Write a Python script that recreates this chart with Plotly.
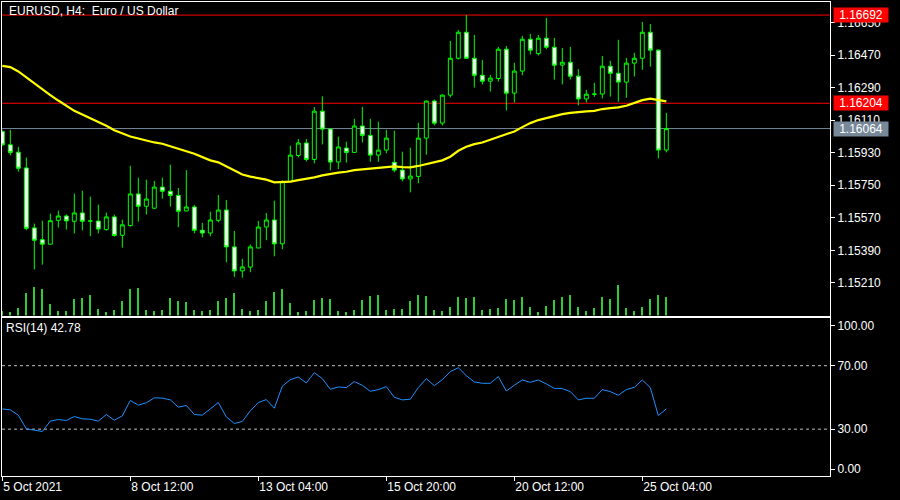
import plotly.graph_objects as go

# ---------------- data (EURUSD H4) ----------------
opens = [1.16048, 1.15974, 1.15933, 1.15846, 1.15514, 1.15449, 1.15424, 1.15556, 1.15580, 1.15551,
         1.15597, 1.15553, 1.15552, 1.15505, 1.15575, 1.15473, 1.15527, 1.15702, 1.15634, 1.15623,
         1.15740, 1.15717, 1.15694, 1.15608, 1.15630, 1.15501, 1.15486, 1.15556, 1.15613, 1.15409,
         1.15276, 1.15297, 1.15403, 1.15519, 1.15558, 1.15426, 1.15770, 1.15915, 1.15984, 1.15893,
         1.16160, 1.16061, 1.15879, 1.15956, 1.15932, 1.16078, 1.16026, 1.15917, 1.15945, 1.15877,
         1.15834, 1.15785, 1.15799, 1.16011, 1.16216, 1.16094, 1.16249, 1.16453, 1.16597, 1.16453,
         1.16359, 1.16326, 1.16341, 1.16503, 1.16260, 1.16382, 1.16558, 1.16479, 1.16564, 1.16514,
         1.16415, 1.16431, 1.16354, 1.16228, 1.16254, 1.16255, 1.16409, 1.16370, 1.16321, 1.16426,
         1.16453, 1.16597, 1.16498, 1.15945]
highs = [1.16054, 1.16057, 1.15963, 1.15903, 1.15538, 1.15554, 1.15593, 1.15610, 1.15589, 1.15704,
         1.15720, 1.15687, 1.15643, 1.15599, 1.15588, 1.15560, 1.15858, 1.15792, 1.15781, 1.15774,
         1.15792, 1.15864, 1.15735, 1.15834, 1.15641, 1.15542, 1.15604, 1.15696, 1.15669, 1.15497,
         1.15343, 1.15422, 1.15553, 1.15597, 1.15665, 1.15777, 1.15969, 1.16006, 1.16006, 1.16183,
         1.16243, 1.16065, 1.16019, 1.15991, 1.16118, 1.16184, 1.16118, 1.16102, 1.16057, 1.16052,
         1.15936, 1.15958, 1.16096, 1.16219, 1.16225, 1.16253, 1.16549, 1.16610, 1.16692, 1.16582,
         1.16444, 1.16361, 1.16516, 1.16521, 1.16428, 1.16577, 1.16588, 1.16582, 1.16676, 1.16566,
         1.16510, 1.16516, 1.16393, 1.16278, 1.16317, 1.16466, 1.16439, 1.16555, 1.16455, 1.16483,
         1.16654, 1.16643, 1.16501, 1.16151]
lows = [1.15969, 1.15915, 1.15825, 1.15501, 1.15284, 1.15311, 1.15422, 1.15516, 1.15505, 1.15483,
        1.15501, 1.15468, 1.15483, 1.15499, 1.15466, 1.15405, 1.15521, 1.15549, 1.15588, 1.15621,
        1.15676, 1.15632, 1.15518, 1.15606, 1.15484, 1.15462, 1.15468, 1.15545, 1.15324, 1.15243,
        1.15238, 1.15269, 1.15402, 1.15446, 1.15357, 1.15396, 1.15768, 1.15904, 1.15882, 1.15871,
        1.15976, 1.15833, 1.15840, 1.15875, 1.15930, 1.15987, 1.15880, 1.15880, 1.15927, 1.15822,
        1.15772, 1.15711, 1.15761, 1.15919, 1.16081, 1.16081, 1.16236, 1.16446, 1.16450, 1.16291,
        1.16308, 1.16269, 1.16324, 1.16164, 1.16208, 1.16359, 1.16474, 1.16468, 1.16503, 1.16335,
        1.16308, 1.16335, 1.16192, 1.16208, 1.16240, 1.16231, 1.16241, 1.16212, 1.16234, 1.16352,
        1.16389, 1.16407, 1.15899, 1.15932]
closes = [1.15974, 1.15932, 1.15844, 1.15512, 1.15446, 1.15424, 1.15554, 1.15580, 1.15553, 1.15597,
          1.15551, 1.15552, 1.15508, 1.15575, 1.15472, 1.15531, 1.15702, 1.15634, 1.15674, 1.15740,
          1.15717, 1.15694, 1.15606, 1.15630, 1.15501, 1.15486, 1.15558, 1.15613, 1.15409, 1.15276,
          1.15298, 1.15409, 1.15519, 1.15558, 1.15426, 1.15770, 1.15917, 1.15984, 1.15893, 1.16160,
          1.16061, 1.15879, 1.15962, 1.15932, 1.16078, 1.16026, 1.15917, 1.15945, 1.16011, 1.15834,
          1.15785, 1.15801, 1.16011, 1.16216, 1.16094, 1.16249, 1.16453, 1.16597, 1.16453, 1.16359,
          1.16326, 1.16343, 1.16503, 1.16260, 1.16382, 1.16558, 1.16498, 1.16564, 1.16514, 1.16415,
          1.16431, 1.16354, 1.16228, 1.16254, 1.16255, 1.16409, 1.16370, 1.16321, 1.16426, 1.16453,
          1.16597, 1.16498, 1.15945, 1.16064]
moving_avg = [1.16411, 1.16404, 1.16380, 1.16347, 1.16312, 1.16278, 1.16249, 1.16219, 1.16192, 1.16162,
              1.16142, 1.16122, 1.16098, 1.16079, 1.16055, 1.16037, 1.16020, 1.16009, 1.15997, 1.15987,
              1.15980, 1.15965, 1.15949, 1.15938, 1.15925, 1.15906, 1.15888, 1.15877, 1.15855, 1.15831,
              1.15810, 1.15798, 1.15788, 1.15781, 1.15766, 1.15766, 1.15770, 1.15779, 1.15785, 1.15794,
              1.15805, 1.15814, 1.15820, 1.15825, 1.15834, 1.15838, 1.15842, 1.15845, 1.15851, 1.15855,
              1.15851, 1.15849, 1.15857, 1.15866, 1.15877, 1.15888, 1.15908, 1.15941, 1.15963, 1.15978,
              1.15987, 1.16002, 1.16020, 1.16035, 1.16048, 1.16072, 1.16094, 1.16111, 1.16122, 1.16135,
              1.16144, 1.16151, 1.16157, 1.16159, 1.16162, 1.16172, 1.16177, 1.16181, 1.16190, 1.16205,
              1.16221, 1.16229, 1.16223, 1.16214]
tick_volume = [1500, 1200, 2400, 6800, 8700, 8100, 3600, 1500, 1500, 5100,
               5400, 6300, 2100, 1200, 1800, 4500, 8100, 8400, 1800, 1500,
               1800, 5400, 4500, 4200, 1800, 1500, 1800, 4500, 5400, 6900,
               2100, 1500, 1800, 4500, 7200, 8100, 3900, 1200, 1500, 4800,
               5400, 5100, 1500, 1200, 1800, 4800, 6000, 6300, 1800, 2100,
               2100, 4500, 6300, 6000, 1800, 1500, 2700, 5700, 5400, 5700,
               1800, 2100, 2400, 5100, 4800, 5700, 2700, 1200, 3000, 4800,
               5700, 6300, 2700, 1500, 2400, 5700, 5100, 9300, 2400, 1500,
               2700, 5100, 6300, 5700]
rsi14 = [42.77, 42.15, 38.80, 30.21, 29.37, 28.53, 35.03, 36.07, 35.45, 37.96,
         36.49, 36.28, 35.03, 39.22, 35.65, 38.38, 48.06, 45.13, 46.60, 49.74,
         49.53, 48.48, 43.87, 44.92, 39.27, 38.80, 42.77, 46.75, 37.75, 33.56,
         34.82, 41.52, 46.75, 48.64, 43.19, 57.07, 61.20, 62.88, 59.11, 65.60,
         61.83, 55.13, 56.60, 56.18, 59.95, 57.64, 53.87, 54.92, 56.81, 50.11,
         48.43, 48.85, 56.18, 61.83, 57.43, 61.20, 66.23, 68.74, 63.72, 59.74,
         58.90, 58.90, 63.09, 54.08, 57.64, 60.99, 59.53, 60.99, 58.48, 55.76,
         55.55, 53.66, 48.43, 49.48, 49.48, 54.92, 53.66, 51.36, 54.92, 56.39,
         60.99, 56.18, 38.59, 42.78]

bar_index = list(range(len(opens)))

time_tick_bars = [0, 16, 32, 48, 64, 80]
time_tick_labels = ["5 Oct 2021", "8 Oct 12:00", "13 Oct 04:00", "15 Oct 20:00",
                    "20 Oct 12:00", "25 Oct 04:00"]
price_ticks = [1.16650, 1.16470, 1.16290, 1.16110, 1.15930, 1.15750, 1.15570, 1.15390, 1.15210]
price_tick_labels = ["%.5f" % p for p in price_ticks]
rsi_tick_vals = [95.3, 70, 30, 4.7]
rsi_tick_labels = ["100.00", "70.00", "30.00", "0.00"]
rsi_levels = [70, 30]

high_line = 1.16692
level_line = 1.16204
bid_line = 1.16064

# ---------------- figure ----------------
FONT = "Liberation Sans"
WHITE = "#FFFFFF"
GREEN = "#00FF00"

fig = go.Figure()

fig.add_trace(go.Bar(
    x=bar_index, y=tick_volume, width=0.13,
    marker=dict(color="#32CD32", line=dict(width=0)),
    xaxis="x", yaxis="y3", hoverinfo="skip", showlegend=False))

fig.add_trace(go.Candlestick(
    x=bar_index, open=opens, high=highs, low=lows, close=closes,
    increasing=dict(line=dict(color=GREEN, width=1), fillcolor="#000000"),
    decreasing=dict(line=dict(color=GREEN, width=1), fillcolor="#FFFFFF"),
    whiskerwidth=0, xaxis="x", yaxis="y", showlegend=False))

fig.add_trace(go.Scatter(
    x=bar_index, y=moving_avg, mode="lines",
    line=dict(color="#FFFF00", width=2.2), xaxis="x", yaxis="y",
    showlegend=False))

fig.add_trace(go.Scatter(
    x=bar_index, y=rsi14, mode="lines",
    line=dict(color="#1E90FF", width=1), xaxis="x2", yaxis="y2",
    showlegend=False))

axis_common = dict(showline=True, mirror=True, linecolor=WHITE, linewidth=1,
                   showgrid=False, zeroline=False,
                   tickfont=dict(family=FONT, size=12, color=WHITE),
                   tickcolor=WHITE)

fig.update_layout(
    width=900, height=500,
    margin=dict(l=2, r=70, t=2, b=24),
    paper_bgcolor="#000000", plot_bgcolor="#000000",
    font=dict(family=FONT, size=12, color=WHITE),
    showlegend=False, bargap=0,
    xaxis=dict(domain=[0, 1], range=[-0.0375, 103.46], anchor="y",
               showticklabels=False, ticks="", rangeslider=dict(visible=False),
               **axis_common),
    yaxis=dict(domain=[0.3386, 1], range=[1.150293, 1.167644], side="right",
               tickvals=price_ticks, ticktext=price_tick_labels,
               ticks="outside", ticklen=4, anchor="x", **axis_common),
    yaxis3=dict(domain=[0.3386, 1], range=[0, 94200], overlaying="y",
                visible=False, anchor="x"),
    xaxis2=dict(domain=[0, 1], range=[-0.0375, 103.46], anchor="y2", matches="x",
                tickvals=time_tick_bars, ticktext=time_tick_labels,
                ticks="outside", ticklen=4, ticklabelposition="outside right",
                **axis_common),
    yaxis2=dict(domain=[0, 0.3323], range=[0.47, 99.74], side="right",
                tickvals=rsi_tick_vals, ticktext=rsi_tick_labels,
                ticks="outside", ticklen=4, anchor="x2", **axis_common),
)

# horizontal price lines
for lvl, col in [(high_line, "#FF0000"), (level_line, "#FF0000"), (bid_line, "#778899")]:
    fig.add_shape(type="line", xref="x domain", yref="y", x0=0, x1=1, y0=lvl, y1=lvl,
                  line=dict(color=col, width=1), layer="below")

# RSI levels
for lvl in rsi_levels:
    fig.add_shape(type="line", xref="x2 domain", yref="y2", x0=0, x1=1, y0=lvl, y1=lvl,
                  line=dict(color="#C0C0C0", width=1, dash="3px,3px"), layer="below")

# price labels on right axis
for lvl, col in [(high_line, "#FF0000"), (level_line, "#FF0000"), (bid_line, "#778899")]:
    fig.add_annotation(xref="paper", yref="y", x=1.0036, y=lvl, xanchor="left",
                       yanchor="middle", text="%.5f" % lvl, showarrow=False,
                       bgcolor=col, width=54, height=14, borderpad=0,
                       font=dict(family=FONT, size=12, color=WHITE))

fig.add_annotation(xref="paper", yref="paper", x=0.006, y=1.0, xanchor="left", yanchor="top",
                   text="EURUSD, H4:\u00a0 Euro / US Dollar", showarrow=False,
                   font=dict(family=FONT, size=12, color=WHITE))
fig.add_annotation(xref="paper", yref="paper", x=0.003, y=0.331, xanchor="left", yanchor="top",
                   text="RSI(14) 42.78", showarrow=False,
                   font=dict(family=FONT, size=12, color=WHITE))

fig.write_html("out.html", config={"displayModeBar": False},
               post_script="document.body.style.margin='0';document.body.style.overflow='hidden';")
